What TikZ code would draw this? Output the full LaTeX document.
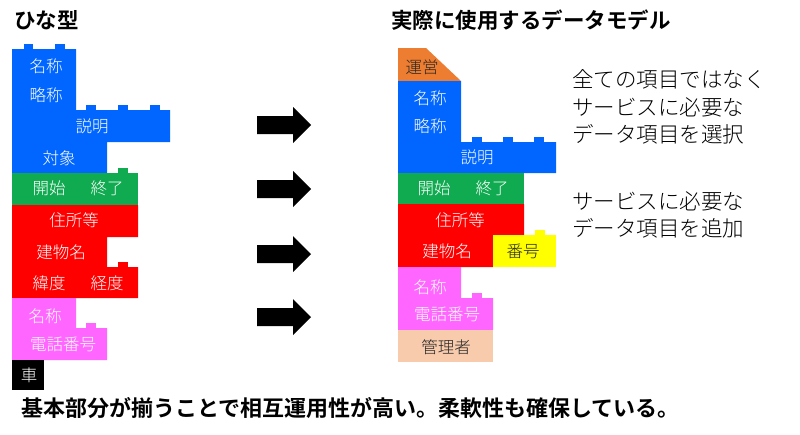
\documentclass[tikz,border=0pt]{standalone}
\usepackage{fontspec}
\setmainfont{Noto Sans CJK JP}[BoldFont={Noto Sans CJK JP Bold}]
\newfontfamily\ligera{Noto Sans CJK JP Light}
\usepackage{xcolor}
\usepackage{tikz}
\usetikzlibrary{positioning}
\definecolor{azulblk}{RGB}{0, 102, 255}
\definecolor{verdeblk}{RGB}{16, 170, 80}
\definecolor{rojoblk}{RGB}{255, 0, 0}
\definecolor{rosablk}{RGB}{255, 102, 255}
\definecolor{naranjablk}{RGB}{237, 125, 49}
\definecolor{amarilloblk}{RGB}{255, 255, 0}
\definecolor{durazno}{RGB}{248, 203, 173}
\definecolor{textoosc}{RGB}{38, 38, 38}

\begin{document}
\begin{tikzpicture}[
  x=1pt, y=-1pt,
  lbl/.style  = {text=white, inner sep=0pt, font=\fontsize{16.5}{20}\selectfont\ligera},
  lbld/.style = {text=textoosc, inner sep=0pt, font=\fontsize{16.5}{20}\selectfont\ligera},
  ttl/.style  = {anchor=west, inner sep=0pt, font=\fontsize{21.5}{26}\selectfont\bfseries},
  nota/.style = {anchor=west, inner sep=0pt, align=left,
    font=\fontsize{21.5}{27.5}\selectfont\ligera},
  arr/.style  = {fill=black}
]
\useasboundingbox (0,0) rectangle (800,434);

% Titulos
\node[ttl] (tizq) at (14,20) {ひな型};
\node[ttl] (tder) at (391,20) {実際に使用するデータモデル};

% Columna izquierda: ひな型
\fill[azulblk] (12,49) -- (76,49) -- (76,110) -- (170,110) -- (170,142)
  -- (107,142) -- (107,173) -- (12,173) -- cycle;
\fill[azulblk] (24,44) rectangle (33,49);
\fill[azulblk] (55,44) rectangle (65,49);
\fill[azulblk] (86,105) rectangle (96,110);
\fill[azulblk] (118,105) rectangle (128,110);
\fill[azulblk] (150,105) rectangle (160,110);
\fill[verdeblk] (12,173) rectangle (138,205);
\fill[verdeblk] (118,168) rectangle (128,173);
\fill[rojoblk] (12,205) -- (138,205) -- (138,237) -- (107,237) -- (107,267)
  -- (138,267) -- (138,298) -- (12,298) -- cycle;
\fill[rojoblk] (118,262) rectangle (128,267);
\fill[rosablk] (12,298) -- (76,298) -- (76,328) -- (107,328) -- (107,360)
  -- (12,360) -- cycle;
\fill[rosablk] (86,323) rectangle (96,328);
\fill[black] (12,360) rectangle (44,390);

\node[lbl] (nom)  at (46,66)   {名称};
\node[lbl] (abr)  at (46,95)   {略称};
\node[lbl] (desc) at (92,126)  {説明};
\node[lbl] (obj)  at (59,158)  {対象};
\node[lbl] (ini)  at (49,188)  {開始};
\node[lbl] (fin)  at (107,188) {終了};
\node[lbl] (dir)  at (74,220)  {住所等};
\node[lbl] (edif) at (61,252)  {建物名};
\node[lbl] (lat)  at (49,283)  {緯度};
\node[lbl] (lon)  at (107,283) {経度};
\node[lbl] (nom2) at (45,316)  {名称};
\node[lbl] (tel)  at (63,344)  {電話番号};
\node[lbl] (car)  at (29,375)  {車};

% Flechas
\fill[arr] (257,116) -- (293,116) -- (293,107) -- (311,125) -- (293,143)
  -- (293,134) -- (257,134) -- cycle;
\fill[arr] (257,180) -- (293,180) -- (293,171) -- (311,189) -- (293,207)
  -- (293,198) -- (257,198) -- cycle;
\fill[arr] (257,245) -- (293,245) -- (293,236) -- (311,254) -- (293,272)
  -- (293,263) -- (257,263) -- cycle;
\fill[arr] (257,308) -- (293,308) -- (293,299) -- (311,317) -- (293,335)
  -- (293,326) -- (257,326) -- cycle;

% Columna derecha: modelo usado
\fill[naranjablk] (398,48) -- (426,48) -- (461,81) -- (398,81) -- cycle;
\fill[azulblk] (398,81) -- (461,81) -- (461,142) -- (556,142) -- (556,173)
  -- (398,173) -- cycle;
\fill[azulblk] (472,137) rectangle (482,142);
\fill[azulblk] (503,137) rectangle (513,142);
\fill[azulblk] (534,137) rectangle (544,142);
\fill[verdeblk] (398,173) rectangle (524,204);
\fill[rojoblk] (398,204) -- (524,204) -- (524,235) -- (493,235) -- (493,267)
  -- (398,267) -- cycle;
\fill[amarilloblk] (493,235) rectangle (556,267);
\fill[amarilloblk] (535,230) rectangle (545,235);
\fill[rosablk] (398,267) -- (461,267) -- (461,298) -- (493,298) -- (493,330)
  -- (398,330) -- cycle;
\fill[rosablk] (472,293) rectangle (482,298);
\fill[durazno] (398,330) rectangle (493,362);

\node[lbld] (oper)  at (422,67)  {運営};
\node[lbl]  (rnom)  at (430,98)  {名称};
\node[lbl]  (rabr)  at (430,126) {略称};
\node[lbl]  (rdesc) at (477,157) {説明};
\node[lbl]  (rini)  at (434,188) {開始};
\node[lbl]  (rfin)  at (492,188) {終了};
\node[lbl]  (rdir)  at (460,220) {住所等};
\node[lbl]  (redif) at (447,251) {建物名};
\node[lbld] (num)   at (523,251) {番号};
\node[lbl]  (rnom2) at (430,287) {名称};
\node[lbl]  (rtel)  at (447,314) {電話番号};
\node[lbld] (adm)   at (446,347) {管理者};

% Notas
\node[nota] (sel) at (572,107) {全ての項目ではなく\\サービスに必要な\\データ項目を選択};
\node[nota] (add) at (572,215) {サービスに必要な\\データ項目を追加};

% Conclusion
\node[ttl, font=\fontsize{22}{26}\selectfont\bfseries] (concl) at (21,408)
  {基本部分が揃うことで相互運用性が高い。柔軟性も確保している。};
\end{tikzpicture}
\end{document}
